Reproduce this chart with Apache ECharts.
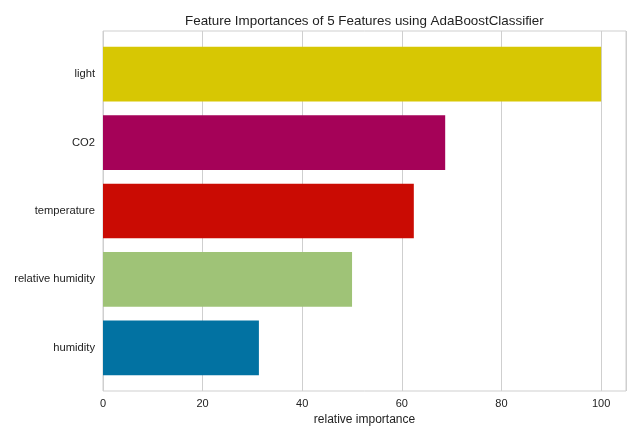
<!DOCTYPE html>
<html>
<head>
<meta charset="utf-8">
<script src="https://cdn.jsdelivr.net/npm/echarts@6/dist/echarts.min.js"></script>
<style>
html,body{margin:0;padding:0;background:#fff;}
#chart{width:640px;height:440px;}
</style>
</head>
<body>
<div id="chart"></div>
<script>
var features = ['light', 'CO2', 'temperature', 'relative humidity', 'humidity'];
var importance = [100, 68.7, 62.4, 50.0, 31.3];
var barColors = ['#d7c703', '#a50258', '#ca0b03', '#9fc377', '#0272a2'];
var xTicks = [0, 20, 40, 60, 80, 100];

var font = 'Liberation Sans, Arial, sans-serif';
var myChart = echarts.init(document.getElementById('chart'));

var option = {
  backgroundColor: '#fff',
  animation: false,
  title: {
    text: 'Feature Importances of 5 Features using AdaBoostClassifier',
    left: 180, top: 10,
    textStyle: {fontFamily: font, fontSize: 13.4, fontWeight: 'normal', color: '#222'}
  },
  grid: [
    // frame + x axis
    {left: 103, right: 14, top: 31, bottom: 49, show: true, borderColor: '#cfcfcf', borderWidth: 1, backgroundColor: 'transparent'},
    // bars (padded like matplotlib's ylim)
    {left: 103, right: 14, top: 40, bottom: 58}
  ],
  xAxis: [
    {
      gridIndex: 0, type: 'value', min: 0, max: 105, interval: 20,
      axisLine: {show: false}, axisTick: {show: false},
      axisLabel: {
        fontFamily: font, fontSize: 11, color: '#222', margin: 7,
        formatter: function(v){ return xTicks.indexOf(v) >= 0 ? String(v) : ''; }
      },
      splitLine: {show: true, lineStyle: {color: '#cfcfcf', width: 1}},
      name: 'relative importance', nameLocation: 'middle', nameGap: 21,
      nameTextStyle: {fontFamily: font, fontSize: 12, color: '#222'}
    },
    {
      gridIndex: 1, type: 'value', min: 0, max: 105, show: false
    }
  ],
  yAxis: [
    {gridIndex: 0, type: 'value', show: false},
    {
      gridIndex: 1, type: 'category', data: features, inverse: true,
      axisLine: {show: false}, axisTick: {show: false},
      axisLabel: {fontFamily: font, fontSize: 11.2, color: '#222', margin: 8},
      splitLine: {show: false}
    }
  ],
  series: [{
    type: 'bar',
    xAxisIndex: 1, yAxisIndex: 1,
    barCategoryGap: '20%',
    data: importance.map(function(v, i){
      return {value: v, itemStyle: {color: barColors[i]}};
    })
  }]
};
myChart.setOption(option);
</script>
</body>
</html>
